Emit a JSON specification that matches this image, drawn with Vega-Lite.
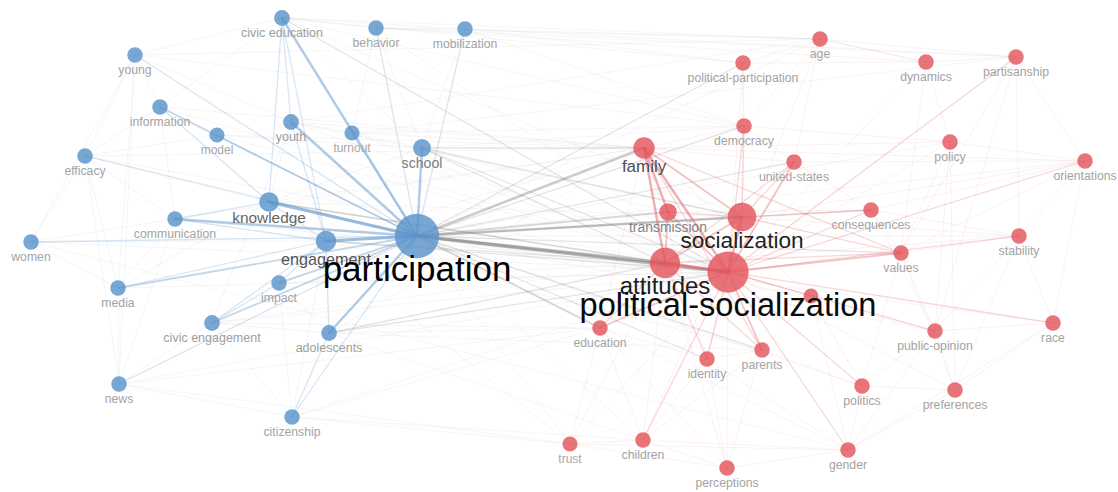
{
  "$schema": "https://vega.github.io/schema/vega-lite/v6.json",
  "width": 1118,
  "height": 492,
  "autosize": {"type": "fit", "contains": "padding"},
  "padding": 0,
  "background": "white",
  "config": {"view": {"stroke": null}, "text": {"font": "Liberation Sans"}},
  "datasets": {
    "nodes": [
      {"id": "civic education", "label": "civic education", "x": 282, "y": 18, "occ": 25, "cluster": 1},
      {"id": "behavior", "label": "behavior", "x": 376, "y": 28, "occ": 24, "cluster": 1},
      {"id": "mobilization", "label": "mobilization", "x": 465, "y": 29, "occ": 24, "cluster": 1},
      {"id": "young", "label": "young", "x": 135, "y": 55, "occ": 24, "cluster": 1},
      {"id": "information", "label": "information", "x": 160, "y": 107, "occ": 24, "cluster": 1},
      {"id": "youth", "label": "youth", "x": 291, "y": 122, "occ": 25, "cluster": 1},
      {"id": "model", "label": "model", "x": 217, "y": 135, "occ": 23, "cluster": 1},
      {"id": "turnout", "label": "turnout", "x": 352, "y": 133, "occ": 23, "cluster": 1},
      {"id": "efficacy", "label": "efficacy", "x": 85, "y": 156, "occ": 24, "cluster": 1},
      {"id": "school", "label": "school", "x": 422, "y": 148, "occ": 32, "cluster": 1},
      {"id": "knowledge", "label": "knowledge", "x": 269, "y": 202, "occ": 38, "cluster": 1},
      {"id": "communication", "label": "communication", "x": 175, "y": 219, "occ": 24, "cluster": 1},
      {"id": "engagement", "label": "engagement", "x": 326, "y": 241, "occ": 42, "cluster": 1},
      {"id": "women", "label": "women", "x": 31, "y": 242, "occ": 24, "cluster": 1},
      {"id": "media", "label": "media", "x": 118, "y": 288, "occ": 24, "cluster": 1},
      {"id": "impact", "label": "impact", "x": 279, "y": 283, "occ": 24, "cluster": 1},
      {"id": "civic engagement", "label": "civic engagement", "x": 212, "y": 323, "occ": 25, "cluster": 1},
      {"id": "adolescents", "label": "adolescents", "x": 329, "y": 333, "occ": 25, "cluster": 1},
      {"id": "news", "label": "news", "x": 119, "y": 384, "occ": 24, "cluster": 1},
      {"id": "citizenship", "label": "citizenship", "x": 292, "y": 417, "occ": 24, "cluster": 1},
      {"id": "participation", "label": "participation", "x": 417, "y": 236, "occ": 196, "cluster": 1},
      {"id": "age", "label": "age", "x": 820, "y": 39, "occ": 24, "cluster": 2},
      {"id": "political-participation", "label": "political-participation", "x": 743, "y": 63, "occ": 24, "cluster": 2},
      {"id": "dynamics", "label": "dynamics", "x": 926, "y": 62, "occ": 24, "cluster": 2},
      {"id": "partisanship", "label": "partisanship", "x": 1016, "y": 57, "occ": 24, "cluster": 2},
      {"id": "democracy", "label": "democracy", "x": 744, "y": 126, "occ": 24, "cluster": 2},
      {"id": "policy", "label": "policy", "x": 950, "y": 142, "occ": 24, "cluster": 2},
      {"id": "united-states", "label": "united-states", "x": 794, "y": 162, "occ": 24, "cluster": 2},
      {"id": "orientations", "label": "orientations", "x": 1085, "y": 161, "occ": 24, "cluster": 2},
      {"id": "consequences", "label": "consequences", "x": 871, "y": 210, "occ": 24, "cluster": 2},
      {"id": "stability", "label": "stability", "x": 1019, "y": 236, "occ": 24, "cluster": 2},
      {"id": "values", "label": "values", "x": 901, "y": 253, "occ": 24, "cluster": 2},
      {"id": "hidden", "label": "", "x": 811, "y": 296, "occ": 22, "cluster": 2},
      {"id": "education", "label": "education", "x": 600, "y": 328, "occ": 24, "cluster": 2},
      {"id": "race", "label": "race", "x": 1053, "y": 323, "occ": 24, "cluster": 2},
      {"id": "public-opinion", "label": "public-opinion", "x": 935, "y": 331, "occ": 24, "cluster": 2},
      {"id": "identity", "label": "identity", "x": 707, "y": 359, "occ": 24, "cluster": 2},
      {"id": "parents", "label": "parents", "x": 762, "y": 350, "occ": 24, "cluster": 2},
      {"id": "politics", "label": "politics", "x": 862, "y": 386, "occ": 24, "cluster": 2},
      {"id": "preferences", "label": "preferences", "x": 955, "y": 390, "occ": 24, "cluster": 2},
      {"id": "trust", "label": "trust", "x": 570, "y": 444, "occ": 23, "cluster": 2},
      {"id": "children", "label": "children", "x": 643, "y": 440, "occ": 24, "cluster": 2},
      {"id": "gender", "label": "gender", "x": 848, "y": 450, "occ": 24, "cluster": 2},
      {"id": "perceptions", "label": "perceptions", "x": 727, "y": 468, "occ": 24, "cluster": 2},
      {"id": "family", "label": "family", "x": 644, "y": 148, "occ": 46, "cluster": 2},
      {"id": "transmission", "label": "transmission", "x": 668, "y": 212, "occ": 31, "cluster": 2},
      {"id": "socialization", "label": "socialization", "x": 742, "y": 217, "occ": 82, "cluster": 2},
      {"id": "attitudes", "label": "attitudes", "x": 665, "y": 263, "occ": 92, "cluster": 2},
      {"id": "political-socialization", "label": "political-socialization", "x": 728, "y": 272, "occ": 170, "cluster": 2}
    ],
    "edges": [
      {"s": "participation", "t": "civic education", "w": 4},
      {"s": "participation", "t": "youth", "w": 4},
      {"s": "participation", "t": "knowledge", "w": 5},
      {"s": "participation", "t": "engagement", "w": 5},
      {"s": "participation", "t": "communication", "w": 4},
      {"s": "participation", "t": "school", "w": 4},
      {"s": "participation", "t": "information", "w": 3},
      {"s": "participation", "t": "model", "w": 2},
      {"s": "participation", "t": "impact", "w": 3},
      {"s": "participation", "t": "adolescents", "w": 4},
      {"s": "participation", "t": "civic engagement", "w": 3},
      {"s": "participation", "t": "media", "w": 3},
      {"s": "participation", "t": "behavior", "w": 2},
      {"s": "participation", "t": "mobilization", "w": 2},
      {"s": "participation", "t": "turnout", "w": 2},
      {"s": "participation", "t": "citizenship", "w": 2},
      {"s": "participation", "t": "women", "w": 2},
      {"s": "participation", "t": "efficacy", "w": 2},
      {"s": "participation", "t": "young", "w": 2},
      {"s": "participation", "t": "news", "w": 2},
      {"s": "civic education", "t": "youth", "w": 2},
      {"s": "civic education", "t": "knowledge", "w": 2},
      {"s": "civic education", "t": "engagement", "w": 2},
      {"s": "civic education", "t": "behavior", "w": 1},
      {"s": "civic education", "t": "young", "w": 1},
      {"s": "civic education", "t": "school", "w": 1},
      {"s": "civic education", "t": "mobilization", "w": 1},
      {"s": "civic education", "t": "information", "w": 1},
      {"s": "youth", "t": "engagement", "w": 2},
      {"s": "youth", "t": "civic engagement", "w": 1},
      {"s": "youth", "t": "turnout", "w": 1},
      {"s": "youth", "t": "knowledge", "w": 1},
      {"s": "knowledge", "t": "communication", "w": 2},
      {"s": "knowledge", "t": "engagement", "w": 2},
      {"s": "knowledge", "t": "information", "w": 2},
      {"s": "knowledge", "t": "media", "w": 1},
      {"s": "knowledge", "t": "efficacy", "w": 1},
      {"s": "communication", "t": "engagement", "w": 2},
      {"s": "communication", "t": "media", "w": 1},
      {"s": "communication", "t": "information", "w": 1},
      {"s": "communication", "t": "efficacy", "w": 1},
      {"s": "communication", "t": "news", "w": 1},
      {"s": "engagement", "t": "impact", "w": 2},
      {"s": "engagement", "t": "civic engagement", "w": 2},
      {"s": "engagement", "t": "adolescents", "w": 2},
      {"s": "engagement", "t": "women", "w": 1},
      {"s": "impact", "t": "civic engagement", "w": 2},
      {"s": "media", "t": "news", "w": 1},
      {"s": "media", "t": "engagement", "w": 2},
      {"s": "media", "t": "efficacy", "w": 1},
      {"s": "media", "t": "young", "w": 1},
      {"s": "news", "t": "civic engagement", "w": 1},
      {"s": "news", "t": "young", "w": 1},
      {"s": "news", "t": "citizenship", "w": 1},
      {"s": "news", "t": "efficacy", "w": 1},
      {"s": "women", "t": "efficacy", "w": 1},
      {"s": "women", "t": "communication", "w": 1},
      {"s": "women", "t": "media", "w": 1},
      {"s": "women", "t": "young", "w": 1},
      {"s": "efficacy", "t": "young", "w": 1},
      {"s": "efficacy", "t": "information", "w": 1},
      {"s": "efficacy", "t": "model", "w": 1},
      {"s": "young", "t": "information", "w": 1},
      {"s": "young", "t": "youth", "w": 1},
      {"s": "information", "t": "model", "w": 1},
      {"s": "model", "t": "school", "w": 1},
      {"s": "turnout", "t": "school", "w": 1},
      {"s": "turnout", "t": "behavior", "w": 1},
      {"s": "behavior", "t": "mobilization", "w": 1},
      {"s": "behavior", "t": "school", "w": 1},
      {"s": "mobilization", "t": "school", "w": 1},
      {"s": "adolescents", "t": "citizenship", "w": 2},
      {"s": "citizenship", "t": "civic engagement", "w": 1},
      {"s": "citizenship", "t": "impact", "w": 1},
      {"s": "citizenship", "t": "engagement", "w": 1},
      {"s": "adolescents", "t": "impact", "w": 1},
      {"s": "adolescents", "t": "civic engagement", "w": 1},
      {"s": "school", "t": "knowledge", "w": 1},
      {"s": "school", "t": "engagement", "w": 1},
      {"s": "participation", "t": "family", "w": 4},
      {"s": "participation", "t": "socialization", "w": 4},
      {"s": "participation", "t": "attitudes", "w": 5},
      {"s": "participation", "t": "political-socialization", "w": 5},
      {"s": "participation", "t": "transmission", "w": 3},
      {"s": "participation", "t": "education", "w": 3},
      {"s": "participation", "t": "democracy", "w": 2},
      {"s": "participation", "t": "united-states", "w": 2},
      {"s": "participation", "t": "values", "w": 2},
      {"s": "participation", "t": "consequences", "w": 2},
      {"s": "participation", "t": "political-participation", "w": 2},
      {"s": "participation", "t": "age", "w": 1},
      {"s": "participation", "t": "policy", "w": 1},
      {"s": "participation", "t": "parents", "w": 2},
      {"s": "participation", "t": "identity", "w": 2},
      {"s": "participation", "t": "public-opinion", "w": 1},
      {"s": "participation", "t": "politics", "w": 1},
      {"s": "participation", "t": "trust", "w": 1},
      {"s": "participation", "t": "children", "w": 1},
      {"s": "participation", "t": "orientations", "w": 1},
      {"s": "participation", "t": "stability", "w": 1},
      {"s": "participation", "t": "hidden", "w": 1},
      {"s": "participation", "t": "gender", "w": 1},
      {"s": "participation", "t": "race", "w": 1},
      {"s": "school", "t": "family", "w": 2},
      {"s": "school", "t": "socialization", "w": 2},
      {"s": "school", "t": "attitudes", "w": 2},
      {"s": "school", "t": "political-socialization", "w": 2},
      {"s": "school", "t": "education", "w": 1},
      {"s": "school", "t": "democracy", "w": 1},
      {"s": "school", "t": "transmission", "w": 1},
      {"s": "knowledge", "t": "political-socialization", "w": 2},
      {"s": "knowledge", "t": "attitudes", "w": 2},
      {"s": "knowledge", "t": "family", "w": 1},
      {"s": "knowledge", "t": "trust", "w": 1},
      {"s": "knowledge", "t": "socialization", "w": 1},
      {"s": "engagement", "t": "political-socialization", "w": 2},
      {"s": "engagement", "t": "attitudes", "w": 2},
      {"s": "engagement", "t": "family", "w": 1},
      {"s": "engagement", "t": "parents", "w": 1},
      {"s": "engagement", "t": "socialization", "w": 1},
      {"s": "youth", "t": "political-socialization", "w": 1},
      {"s": "youth", "t": "family", "w": 1},
      {"s": "youth", "t": "age", "w": 1},
      {"s": "youth", "t": "socialization", "w": 1},
      {"s": "civic education", "t": "political-socialization", "w": 2},
      {"s": "civic education", "t": "socialization", "w": 1},
      {"s": "civic education", "t": "democracy", "w": 1},
      {"s": "civic education", "t": "age", "w": 1},
      {"s": "civic education", "t": "political-participation", "w": 1},
      {"s": "adolescents", "t": "political-socialization", "w": 2},
      {"s": "adolescents", "t": "attitudes", "w": 2},
      {"s": "adolescents", "t": "family", "w": 1},
      {"s": "adolescents", "t": "education", "w": 1},
      {"s": "adolescents", "t": "children", "w": 1},
      {"s": "adolescents", "t": "parents", "w": 1},
      {"s": "citizenship", "t": "political-socialization", "w": 1},
      {"s": "citizenship", "t": "education", "w": 1},
      {"s": "citizenship", "t": "trust", "w": 1},
      {"s": "citizenship", "t": "children", "w": 1},
      {"s": "civic engagement", "t": "political-socialization", "w": 1},
      {"s": "civic engagement", "t": "education", "w": 1},
      {"s": "civic engagement", "t": "attitudes", "w": 1},
      {"s": "impact", "t": "political-socialization", "w": 1},
      {"s": "impact", "t": "attitudes", "w": 1},
      {"s": "communication", "t": "political-socialization", "w": 1},
      {"s": "communication", "t": "family", "w": 1},
      {"s": "media", "t": "political-socialization", "w": 1},
      {"s": "news", "t": "political-socialization", "w": 1},
      {"s": "news", "t": "trust", "w": 1},
      {"s": "news", "t": "education", "w": 1},
      {"s": "information", "t": "political-socialization", "w": 1},
      {"s": "information", "t": "family", "w": 1},
      {"s": "turnout", "t": "political-socialization", "w": 1},
      {"s": "turnout", "t": "family", "w": 1},
      {"s": "turnout", "t": "partisanship", "w": 1},
      {"s": "turnout", "t": "democracy", "w": 1},
      {"s": "behavior", "t": "political-socialization", "w": 1},
      {"s": "behavior", "t": "partisanship", "w": 1},
      {"s": "behavior", "t": "dynamics", "w": 1},
      {"s": "behavior", "t": "age", "w": 1},
      {"s": "mobilization", "t": "political-participation", "w": 1},
      {"s": "mobilization", "t": "age", "w": 1},
      {"s": "mobilization", "t": "partisanship", "w": 1},
      {"s": "mobilization", "t": "democracy", "w": 1},
      {"s": "young", "t": "age", "w": 1},
      {"s": "young", "t": "democracy", "w": 1},
      {"s": "efficacy", "t": "political-socialization", "w": 1},
      {"s": "efficacy", "t": "family", "w": 1},
      {"s": "women", "t": "political-socialization", "w": 1},
      {"s": "women", "t": "gender", "w": 1},
      {"s": "model", "t": "family", "w": 1},
      {"s": "model", "t": "political-socialization", "w": 1},
      {"s": "political-socialization", "t": "family", "w": 4},
      {"s": "political-socialization", "t": "socialization", "w": 4},
      {"s": "political-socialization", "t": "attitudes", "w": 5},
      {"s": "political-socialization", "t": "transmission", "w": 3},
      {"s": "political-socialization", "t": "parents", "w": 3},
      {"s": "political-socialization", "t": "identity", "w": 2},
      {"s": "political-socialization", "t": "education", "w": 3},
      {"s": "political-socialization", "t": "public-opinion", "w": 2},
      {"s": "political-socialization", "t": "values", "w": 3},
      {"s": "political-socialization", "t": "consequences", "w": 2},
      {"s": "political-socialization", "t": "united-states", "w": 3},
      {"s": "political-socialization", "t": "race", "w": 2},
      {"s": "political-socialization", "t": "stability", "w": 2},
      {"s": "political-socialization", "t": "politics", "w": 2},
      {"s": "political-socialization", "t": "gender", "w": 2},
      {"s": "political-socialization", "t": "trust", "w": 1},
      {"s": "political-socialization", "t": "children", "w": 2},
      {"s": "political-socialization", "t": "perceptions", "w": 1},
      {"s": "political-socialization", "t": "democracy", "w": 2},
      {"s": "political-socialization", "t": "political-participation", "w": 1},
      {"s": "political-socialization", "t": "age", "w": 1},
      {"s": "political-socialization", "t": "dynamics", "w": 1},
      {"s": "political-socialization", "t": "partisanship", "w": 2},
      {"s": "political-socialization", "t": "policy", "w": 1},
      {"s": "political-socialization", "t": "orientations", "w": 2},
      {"s": "political-socialization", "t": "preferences", "w": 1},
      {"s": "political-socialization", "t": "hidden", "w": 2},
      {"s": "family", "t": "attitudes", "w": 4},
      {"s": "family", "t": "socialization", "w": 3},
      {"s": "family", "t": "transmission", "w": 4},
      {"s": "family", "t": "parents", "w": 2},
      {"s": "family", "t": "democracy", "w": 1},
      {"s": "family", "t": "united-states", "w": 1},
      {"s": "family", "t": "orientations", "w": 1},
      {"s": "family", "t": "policy", "w": 1},
      {"s": "family", "t": "values", "w": 2},
      {"s": "family", "t": "identity", "w": 1},
      {"s": "family", "t": "hidden", "w": 1},
      {"s": "family", "t": "education", "w": 1},
      {"s": "socialization", "t": "attitudes", "w": 3},
      {"s": "socialization", "t": "transmission", "w": 2},
      {"s": "socialization", "t": "united-states", "w": 2},
      {"s": "socialization", "t": "democracy", "w": 2},
      {"s": "socialization", "t": "consequences", "w": 2},
      {"s": "socialization", "t": "values", "w": 2},
      {"s": "socialization", "t": "stability", "w": 1},
      {"s": "socialization", "t": "children", "w": 1},
      {"s": "socialization", "t": "political-participation", "w": 1},
      {"s": "socialization", "t": "orientations", "w": 1},
      {"s": "socialization", "t": "identity", "w": 1},
      {"s": "attitudes", "t": "transmission", "w": 3},
      {"s": "attitudes", "t": "education", "w": 2},
      {"s": "attitudes", "t": "parents", "w": 2},
      {"s": "attitudes", "t": "identity", "w": 2},
      {"s": "attitudes", "t": "values", "w": 2},
      {"s": "attitudes", "t": "public-opinion", "w": 1},
      {"s": "attitudes", "t": "children", "w": 1},
      {"s": "attitudes", "t": "trust", "w": 1},
      {"s": "attitudes", "t": "perceptions", "w": 1},
      {"s": "attitudes", "t": "united-states", "w": 2},
      {"s": "attitudes", "t": "stability", "w": 1},
      {"s": "transmission", "t": "parents", "w": 1},
      {"s": "transmission", "t": "consequences", "w": 1},
      {"s": "united-states", "t": "age", "w": 1},
      {"s": "united-states", "t": "democracy", "w": 1},
      {"s": "united-states", "t": "consequences", "w": 1},
      {"s": "united-states", "t": "orientations", "w": 1},
      {"s": "political-participation", "t": "age", "w": 1},
      {"s": "political-participation", "t": "democracy", "w": 1},
      {"s": "political-participation", "t": "dynamics", "w": 1},
      {"s": "dynamics", "t": "policy", "w": 1},
      {"s": "dynamics", "t": "partisanship", "w": 1},
      {"s": "dynamics", "t": "age", "w": 1},
      {"s": "dynamics", "t": "values", "w": 1},
      {"s": "partisanship", "t": "orientations", "w": 1},
      {"s": "partisanship", "t": "stability", "w": 1},
      {"s": "partisanship", "t": "values", "w": 1},
      {"s": "partisanship", "t": "public-opinion", "w": 1},
      {"s": "partisanship", "t": "age", "w": 1},
      {"s": "policy", "t": "orientations", "w": 1},
      {"s": "policy", "t": "public-opinion", "w": 1},
      {"s": "policy", "t": "values", "w": 1},
      {"s": "policy", "t": "preferences", "w": 1},
      {"s": "orientations", "t": "stability", "w": 1},
      {"s": "orientations", "t": "values", "w": 1},
      {"s": "orientations", "t": "consequences", "w": 1},
      {"s": "orientations", "t": "race", "w": 1},
      {"s": "stability", "t": "values", "w": 1},
      {"s": "stability", "t": "race", "w": 1},
      {"s": "stability", "t": "public-opinion", "w": 1},
      {"s": "stability", "t": "consequences", "w": 1},
      {"s": "stability", "t": "preferences", "w": 1},
      {"s": "values", "t": "public-opinion", "w": 1},
      {"s": "values", "t": "preferences", "w": 1},
      {"s": "values", "t": "politics", "w": 1},
      {"s": "race", "t": "public-opinion", "w": 1},
      {"s": "race", "t": "preferences", "w": 1},
      {"s": "race", "t": "gender", "w": 1},
      {"s": "public-opinion", "t": "preferences", "w": 1},
      {"s": "public-opinion", "t": "politics", "w": 1},
      {"s": "public-opinion", "t": "gender", "w": 1},
      {"s": "politics", "t": "gender", "w": 1},
      {"s": "politics", "t": "preferences", "w": 1},
      {"s": "politics", "t": "parents", "w": 1},
      {"s": "preferences", "t": "gender", "w": 1},
      {"s": "identity", "t": "parents", "w": 1},
      {"s": "identity", "t": "perceptions", "w": 1},
      {"s": "identity", "t": "children", "w": 1},
      {"s": "parents", "t": "children", "w": 1},
      {"s": "parents", "t": "hidden", "w": 1},
      {"s": "parents", "t": "perceptions", "w": 1},
      {"s": "hidden", "t": "gender", "w": 1},
      {"s": "hidden", "t": "public-opinion", "w": 1},
      {"s": "hidden", "t": "politics", "w": 1},
      {"s": "education", "t": "trust", "w": 1},
      {"s": "education", "t": "children", "w": 1},
      {"s": "education", "t": "identity", "w": 1},
      {"s": "education", "t": "perceptions", "w": 1},
      {"s": "trust", "t": "children", "w": 1},
      {"s": "trust", "t": "perceptions", "w": 1},
      {"s": "trust", "t": "gender", "w": 1},
      {"s": "children", "t": "perceptions", "w": 1},
      {"s": "children", "t": "gender", "w": 1},
      {"s": "perceptions", "t": "gender", "w": 1},
      {"s": "gender", "t": "identity", "w": 1},
      {"s": "age", "t": "dynamics", "w": 1},
      {"s": "age", "t": "democracy", "w": 1},
      {"s": "consequences", "t": "values", "w": 1},
      {"s": "consequences", "t": "public-opinion", "w": 1},
      {"s": "democracy", "t": "policy", "w": 1}
    ]
  },
  "resolve": {"scale": {"size": "independent", "color": "independent", "opacity": "independent", "strokeWidth": "independent"}},
  "layer": [
    {
      "data": {"name": "edges"},
      "transform": [
        {"lookup": "s", "from": {"data": {"name": "nodes"}, "key": "id", "fields": ["x", "y", "cluster"]}, "as": ["sx", "sy", "sc"]},
        {"lookup": "t", "from": {"data": {"name": "nodes"}, "key": "id", "fields": ["x", "y", "cluster"]}, "as": ["tx", "ty", "tc"]},
        {"filter": "datum.sc != datum.tc"}
      ],
      "mark": {"type": "rule", "color": "#7f7f7f", "strokeCap": "round"},
      "encoding": {
        "x": {"field": "sx", "type": "quantitative", "scale": {"domain": [0, 1118], "nice": false, "zero": false}, "axis": null},
        "y": {"field": "sy", "type": "quantitative", "scale": {"domain": [0, 492], "nice": false, "zero": false, "reverse": true}, "axis": null},
        "x2": {"field": "tx"},
        "y2": {"field": "ty"},
        "strokeWidth": {"field": "w", "type": "quantitative", "scale": {"domain": [1, 5], "range": [0.7, 3.2]}, "legend": null},
        "opacity": {"field": "w", "type": "quantitative", "scale": {"domain": [1, 5], "range": [0.1, 0.5]}, "legend": null}
      }
    },
    {
      "data": {"name": "edges"},
      "transform": [
        {"lookup": "s", "from": {"data": {"name": "nodes"}, "key": "id", "fields": ["x", "y", "cluster"]}, "as": ["sx", "sy", "sc"]},
        {"lookup": "t", "from": {"data": {"name": "nodes"}, "key": "id", "fields": ["x", "y", "cluster"]}, "as": ["tx", "ty", "tc"]},
        {"filter": "datum.sc == 1 && datum.tc == 1"}
      ],
      "mark": {"type": "rule", "color": "#5b93c8", "strokeCap": "round"},
      "encoding": {
        "x": {"field": "sx", "type": "quantitative", "axis": null},
        "y": {"field": "sy", "type": "quantitative", "axis": null},
        "x2": {"field": "tx"},
        "y2": {"field": "ty"},
        "strokeWidth": {"field": "w", "type": "quantitative", "scale": {"domain": [1, 5], "range": [0.7, 3]}, "legend": null},
        "opacity": {"field": "w", "type": "quantitative", "scale": {"domain": [1, 5], "range": [0.12, 0.6]}, "legend": null}
      }
    },
    {
      "data": {"name": "edges"},
      "transform": [
        {"lookup": "s", "from": {"data": {"name": "nodes"}, "key": "id", "fields": ["x", "y", "cluster"]}, "as": ["sx", "sy", "sc"]},
        {"lookup": "t", "from": {"data": {"name": "nodes"}, "key": "id", "fields": ["x", "y", "cluster"]}, "as": ["tx", "ty", "tc"]},
        {"filter": "datum.sc == 2 && datum.tc == 2"}
      ],
      "mark": {"type": "rule", "color": "#e0585e", "strokeCap": "round"},
      "encoding": {
        "x": {"field": "sx", "type": "quantitative", "axis": null},
        "y": {"field": "sy", "type": "quantitative", "axis": null},
        "x2": {"field": "tx"},
        "y2": {"field": "ty"},
        "strokeWidth": {"field": "w", "type": "quantitative", "scale": {"domain": [1, 5], "range": [0.7, 3]}, "legend": null},
        "opacity": {"field": "w", "type": "quantitative", "scale": {"domain": [1, 5], "range": [0.12, 0.6]}, "legend": null}
      }
    },
    {
      "data": {"name": "nodes"},
      "mark": {"type": "circle", "opacity": 0.82},
      "encoding": {
        "x": {"field": "x", "type": "quantitative", "axis": null},
        "y": {"field": "y", "type": "quantitative", "axis": null},
        "size": {"field": "occ", "type": "quantitative", "scale": {"domain": [0, 200], "range": [0, 2000]}, "legend": null},
        "color": {"field": "cluster", "type": "nominal", "scale": {"domain": [1, 2], "range": ["#5a94cb", "#e3565d"]}, "legend": null}
      }
    },
    {
      "data": {"name": "nodes"},
      "transform": [{"filter": "datum.occ < 28"}],
      "mark": {"type": "text", "dy": 14.5, "baseline": "middle", "align": "center"},
      "encoding": {
        "x": {"field": "x", "type": "quantitative", "axis": null},
        "y": {"field": "y", "type": "quantitative", "axis": null},
        "text": {"field": "label"},
        "size": {"field": "occ", "type": "quantitative", "scale": {"type": "sqrt", "domain": [0, 196], "range": [0, 35]}, "legend": null},
        "color": {"field": "occ", "type": "quantitative", "scale": {"domain": [24, 32, 42, 82, 196], "range": ["#a3a3a3", "#7d7d7d", "#555555", "#1f1f1f", "#000000"]}, "legend": null}
      }
    },
    {
      "data": {"name": "nodes"},
      "transform": [{"filter": "datum.occ >= 28 && datum.occ < 40"}],
      "mark": {"type": "text", "dy": 16, "baseline": "middle", "align": "center"},
      "encoding": {
        "x": {"field": "x", "type": "quantitative", "axis": null},
        "y": {"field": "y", "type": "quantitative", "axis": null},
        "text": {"field": "label"},
        "size": {"field": "occ", "type": "quantitative", "scale": {"type": "sqrt", "domain": [0, 196], "range": [0, 35]}, "legend": null},
        "color": {"field": "occ", "type": "quantitative", "scale": {"domain": [24, 32, 42, 82, 196], "range": ["#a3a3a3", "#7d7d7d", "#555555", "#1f1f1f", "#000000"]}, "legend": null}
      }
    },
    {
      "data": {"name": "nodes"},
      "transform": [{"filter": "datum.occ >= 40 && datum.occ < 70"}],
      "mark": {"type": "text", "dy": 18.5, "baseline": "middle", "align": "center"},
      "encoding": {
        "x": {"field": "x", "type": "quantitative", "axis": null},
        "y": {"field": "y", "type": "quantitative", "axis": null},
        "text": {"field": "label"},
        "size": {"field": "occ", "type": "quantitative", "scale": {"type": "sqrt", "domain": [0, 196], "range": [0, 35]}, "legend": null},
        "color": {"field": "occ", "type": "quantitative", "scale": {"domain": [24, 32, 42, 82, 196], "range": ["#a3a3a3", "#7d7d7d", "#555555", "#1f1f1f", "#000000"]}, "legend": null}
      }
    },
    {
      "data": {"name": "nodes"},
      "transform": [{"filter": "datum.occ >= 70 && datum.occ < 150"}],
      "mark": {"type": "text", "dy": 24, "baseline": "middle", "align": "center"},
      "encoding": {
        "x": {"field": "x", "type": "quantitative", "axis": null},
        "y": {"field": "y", "type": "quantitative", "axis": null},
        "text": {"field": "label"},
        "size": {"field": "occ", "type": "quantitative", "scale": {"type": "sqrt", "domain": [0, 196], "range": [0, 35]}, "legend": null},
        "color": {"field": "occ", "type": "quantitative", "scale": {"domain": [24, 32, 42, 82, 196], "range": ["#a3a3a3", "#7d7d7d", "#555555", "#1f1f1f", "#000000"]}, "legend": null}
      }
    },
    {
      "data": {"name": "nodes"},
      "transform": [{"filter": "datum.occ >= 150"}],
      "mark": {"type": "text", "dy": 34, "baseline": "middle", "align": "center"},
      "encoding": {
        "x": {"field": "x", "type": "quantitative", "axis": null},
        "y": {"field": "y", "type": "quantitative", "axis": null},
        "text": {"field": "label"},
        "size": {"field": "occ", "type": "quantitative", "scale": {"type": "sqrt", "domain": [0, 196], "range": [0, 35]}, "legend": null},
        "color": {"field": "occ", "type": "quantitative", "scale": {"domain": [24, 32, 42, 82, 196], "range": ["#a3a3a3", "#7d7d7d", "#555555", "#1f1f1f", "#000000"]}, "legend": null}
      }
    }
  ]
}
